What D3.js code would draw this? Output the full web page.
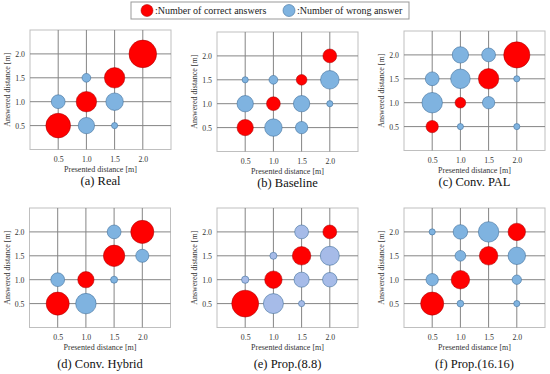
<!DOCTYPE html>
<html>
<head>
<meta charset="utf-8">
<script src="https://cdn.jsdelivr.net/npm/d3@7"></script>
<style>
  body { margin: 0; background: #fff; }
  svg { display: block; }
  text { font-family: "Liberation Serif", "Times New Roman", Times, serif; }
</style>
</head>
<body>
<svg width="550" height="374"></svg>
<script>
// tick values on both axes
const tickValues = [0.5, 1.0, 1.5, 2.0];

const panelTitles = ["(a) Real", "(b) Baseline", "(c) Conv. PAL", "(d) Conv. Hybrid", "(e) Prop.(8.8)", "(f) Prop.(16.16)"];

// correct answers sit on the diagonal: [presented, count]
const correctData = [
    [[0.5, 16], [1.0, 11], [1.5, 11], [2.0, 20]],
    [[0.5, 7], [1.0, 5], [1.5, 3], [2.0, 5]],
    [[0.5, 4], [1.0, 3], [1.5, 11], [2.0, 18]],
    [[0.5, 14], [1.0, 7], [1.5, 12], [2.0, 14]],
    [[0.5, 19], [1.0, 8], [1.5, 9], [2.0, 5]],
    [[0.5, 14], [1.0, 9], [1.5, 9], [2.0, 8]]
];

// wrong answers: [presented, answered, count]
const wrongData = [
    [[0.5, 1.0, 5], [1.0, 0.5, 7], [1.0, 1.5, 2], [1.5, 1.0, 8], [1.5, 0.5, 1]],
    [[0.5, 1.0, 7], [0.5, 1.5, 1], [1.0, 0.5, 8], [1.0, 1.5, 2], [1.5, 1.0, 7], [1.5, 0.5, 4], [2.0, 1.5, 9], [2.0, 1.0, 1]],
    [[0.5, 1.0, 11], [0.5, 1.5, 5], [1.0, 0.5, 1], [1.0, 1.5, 10], [1.0, 2.0, 7], [1.5, 2.0, 5], [1.5, 1.0, 4], [2.0, 1.5, 1], [2.0, 0.5, 1]],
    [[0.5, 1.0, 5], [1.0, 0.5, 11], [1.5, 2.0, 5], [1.5, 1.0, 1.3], [2.0, 1.5, 4.5]],
    [[0.5, 1.0, 1.4], [1.0, 0.5, 10.5], [1.0, 1.5, 1.3], [1.5, 2.0, 5], [1.5, 1.0, 6], [1.5, 0.5, 1], [2.0, 1.5, 9.5], [2.0, 1.0, 5.5]],
    [[0.5, 1.0, 4], [0.5, 2.0, 1], [1.0, 0.5, 1.2], [1.0, 1.5, 3], [1.0, 2.0, 5.5], [1.5, 2.0, 11], [2.0, 1.5, 8], [2.0, 1.0, 2.3], [2.0, 0.5, 1]]
];

const wrongColors = ["#7fb3e0", "#7fb3e0", "#7fb3e0", "#7fb3e0", "#a6bbe8", "#7fb3e0"];

// plot area placement for each panel
const layout = [
    { left: 30, top: 30, cap: 30 },
    { left: 217, top: 32, cap: 30 },
    { left: 404, top: 31, cap: 30 },
    { left: 29.5, top: 208, cap: 35 },
    { left: 217, top: 208, cap: 35 },
    { left: 404, top: 208, cap: 35 }
];

const plotW = 141, plotH = 119.5;
const serif = 'Liberation Serif, Times New Roman, Times, serif';

const svg = d3.select('svg');

let r = d3.scaleSqrt().domain([0, 20]).range([0, 13.8]);

panelTitles.forEach((title, i) => {
    const L = layout[i];
    let x = d3.scaleLinear().domain([0, 2.5]).range([L.left, L.left + plotW]);
    let y = d3.scaleLinear().domain([0, 2.5]).range([L.top + plotH, L.top]);
    let g = svg.append('g').attr('font-family', serif);

    // border
    g.append('rect')
        .attr('x', x(0)).attr('y', y(2.5))
        .attr('width', plotW).attr('height', plotH)
        .attr('fill', 'white')
        .attr('stroke', '#bfbfbf')
        .attr('stroke-width', 1);

    // grid
    g.selectAll('.vg').data(tickValues).enter().append('line')
        .attr('x1', d => x(d)).attr('x2', d => x(d))
        .attr('y1', y(0)).attr('y2', y(2.5))
        .attr('stroke', '#858585').attr('stroke-width', 1);
    g.selectAll('.hg').data(tickValues).enter().append('line')
        .attr('y1', d => y(d)).attr('y2', d => y(d))
        .attr('x1', x(0)).attr('x2', x(2.5))
        .attr('stroke', '#858585').attr('stroke-width', 1);

    // axes (labels only)
    let xAxis = g.append('g')
        .attr('transform', `translate(0, ${y(0)})`)
        .call(d3.axisBottom(x).tickValues(tickValues).tickFormat(d3.format('.1f')).tickSize(0).tickPadding(7));
    let yAxis = g.append('g')
        .attr('transform', `translate(${x(0)}, 0)`)
        .call(d3.axisLeft(y).tickValues(tickValues).tickFormat(d3.format('.1f')).tickSize(0).tickPadding(5));
    [xAxis, yAxis].forEach(a => {
        a.attr('font-family', serif).attr('font-size', 7.8);
        a.select('.domain').remove();
        a.selectAll('text').attr('fill', '#333');
    });

    g.append('text')
        .attr('x', (x(0) + x(2.5)) / 2)
        .attr('y', y(0) + 22)
        .attr('text-anchor', 'middle')
        .attr('font-size', 8)
        .attr('fill', '#333')
        .text('Presented distance [m]');

    g.append('text')
        .attr('transform', `translate(${x(0) - 20}, ${(y(0) + y(2.5)) / 2}) rotate(-90)`)
        .attr('text-anchor', 'middle')
        .attr('font-size', 8)
        .attr('fill', '#333')
        .text('Answered distance [m]');

    g.append('text')
        .attr('x', (x(0) + x(2.5)) / 2)
        .attr('y', y(0) + L.cap + 5)
        .attr('text-anchor', 'middle')
        .attr('font-size', 12.5)
        .attr('fill', '#111')
        .text(title);

    // wrong answers
    g.selectAll('.wrong').data(wrongData[i]).enter().append('circle')
        .attr('cx', d => x(d[0]))
        .attr('cy', d => y(d[1]))
        .attr('r', d => r(d[2]))
        .attr('fill', wrongColors[i])
        .attr('stroke', '#41719c')
        .attr('stroke-width', 0.6);

    // correct answers
    g.selectAll('.correct').data(correctData[i]).enter().append('circle')
        .attr('cx', d => x(d[0]))
        .attr('cy', d => y(d[0]))
        .attr('r', d => r(d[1]))
        .attr('fill', '#ff0000')
        .attr('stroke', '#a00000')
        .attr('stroke-width', 0.5);
});

// legend
let legend = svg.append('g').attr('font-family', serif);
legend.append('rect')
    .attr('x', 131).attr('y', 2)
    .attr('width', 278).attr('height', 17)
    .attr('fill', 'white')
    .attr('stroke', '#999').attr('stroke-width', 1);
legend.append('circle').attr('cx', 147).attr('cy', 10.5).attr('r', 6)
    .attr('fill', '#ff0000').attr('stroke', '#a00000').attr('stroke-width', 0.5);
legend.append('text').attr('x', 155).attr('y', 14)
    .attr('font-size', 10).attr('fill', '#222')
    .text(':Number of correct answers');
legend.append('circle').attr('cx', 289).attr('cy', 10.5).attr('r', 6)
    .attr('fill', '#7fb3e0').attr('stroke', '#41719c').attr('stroke-width', 0.6);
legend.append('text').attr('x', 297).attr('y', 14)
    .attr('font-size', 10).attr('fill', '#222')
    .text(':Number of wrong answer');
</script>
</body>
</html>
